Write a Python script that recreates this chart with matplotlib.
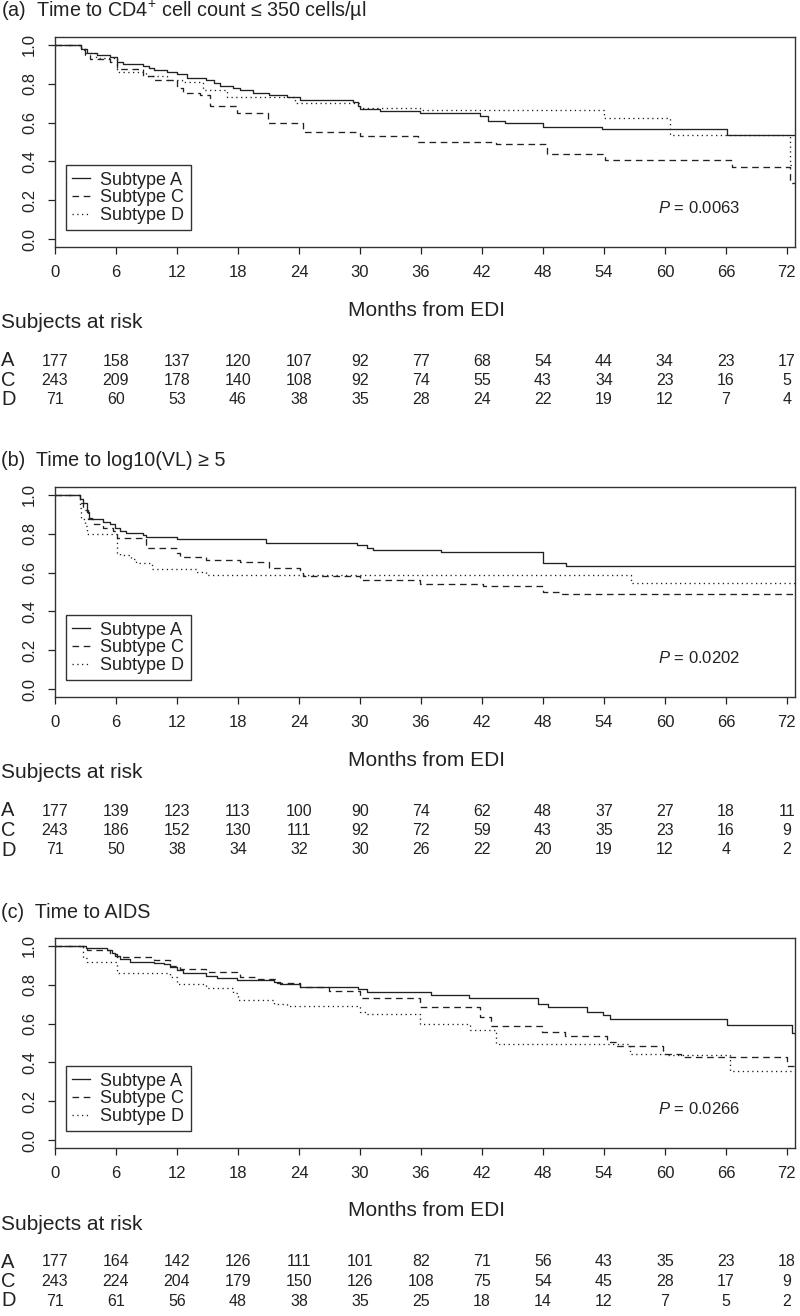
"""
plot.py

Kaplan-Meier style curves for three HIV-1 subtypes with a subjects-at-risk table
under every panel.
"""

# Importing in libraries
import matplotlib
matplotlib.use("Agg")
import matplotlib.pyplot as plt
from matplotlib.transforms import blended_transform_factory

plt.rcParams["font.family"] = ["Liberation Sans", "DejaVu Sans"]
plt.rcParams["mathtext.fontset"] = "custom"
plt.rcParams["mathtext.rm"] = "Liberation Sans"
plt.rcParams["mathtext.it"] = "Liberation Sans:italic"

INK = "#222222"

# x axis months and risk table columns
months = [0, 6, 12, 18, 24, 30, 36, 42, 48, 54, 60, 66, 72]
groups = ["A", "C", "D"]
legend_labels = ["Subtype A", "Subtype C", "Subtype D"]

# (a) time to CD4 <= 350
a_time_A = [0, 2.6, 3.1, 4.1, 5.4, 6.1, 6.7, 8.7, 9.2, 9.7, 11.0, 12.0, 13.0, 14.9, 15.6, 16.2,
            17.5, 18.2, 19.5, 21.1, 22.8, 24.1, 29.3, 29.8, 30.0, 32.0, 35.9, 41.8, 42.6,
            44.3, 48.0, 53.8, 66.1, 72.8]
a_surv_A = [1.0, 0.98, 0.957, 0.948, 0.936, 0.914, 0.902, 0.892, 0.88, 0.868, 0.862, 0.85,
            0.828, 0.82, 0.806, 0.789, 0.777, 0.765, 0.754, 0.742, 0.73, 0.716, 0.708, 0.686,
            0.668, 0.66, 0.648, 0.634, 0.61, 0.596, 0.579, 0.565, 0.536, 0.536]
a_time_C = [0, 2.6, 3.0, 3.4, 5.4, 6.1, 8.7, 9.7, 12.0, 12.6, 14.3, 15.2, 17.9, 21.0, 24.4,
            30.0, 35.7, 43.4, 48.4, 54.1, 66.6, 72.3, 72.8]
a_surv_C = [1.0, 0.974, 0.95, 0.926, 0.914, 0.875, 0.84, 0.82, 0.78, 0.754, 0.742, 0.686,
            0.648, 0.596, 0.553, 0.531, 0.502, 0.49, 0.438, 0.407, 0.373, 0.287, 0.287]
a_time_D = [0, 2.5, 3.0, 4.0, 6.1, 9.0, 11.0, 12.5, 14.6, 16.9, 23.6, 30.0, 35.9, 54.0, 60.5,
            72.3, 72.8]
a_surv_D = [1.0, 0.986, 0.958, 0.93, 0.86, 0.84, 0.82, 0.81, 0.765, 0.733, 0.703, 0.674,
            0.665, 0.622, 0.536, 0.38, 0.38]
a_risk_A = [177, 158, 137, 120, 107, 92, 77, 68, 54, 44, 34, 23, 17]
a_risk_C = [243, 209, 178, 140, 108, 92, 74, 55, 43, 34, 23, 16, 5]
a_risk_D = [71, 60, 53, 46, 38, 35, 28, 24, 22, 19, 12, 7, 4]

# (b) time to log10(VL) >= 5
b_time_A = [0, 2.5, 2.8, 3.1, 3.3, 3.6, 4.75, 5.4, 5.9, 6.4, 7.0, 8.7, 9.0, 12.0, 20.8, 29.7,
            30.7, 31.3, 38.0, 48.0, 50.3, 72.8]
b_surv_A = [1.0, 0.98, 0.96, 0.909, 0.883, 0.874, 0.86, 0.848, 0.831, 0.814, 0.802, 0.791,
            0.784, 0.771, 0.753, 0.74, 0.728, 0.714, 0.705, 0.647, 0.633, 0.633]
b_time_C = [0, 2.5, 2.8, 3.2, 3.8, 4.75, 5.7, 6.1, 9.0, 12.0, 12.3, 14.9, 18.2, 21.1, 24.1,
            24.4, 30.0, 35.9, 42.1, 48.0, 49.7, 72.8]
b_surv_C = [1.0, 0.96, 0.92, 0.874, 0.848, 0.831, 0.814, 0.779, 0.728, 0.702, 0.681, 0.664,
            0.653, 0.624, 0.598, 0.584, 0.564, 0.543, 0.529, 0.5, 0.49, 0.49]
b_time_D = [0, 2.5, 2.6, 2.95, 3.1, 6.1, 6.4, 7.5, 8.0, 9.5, 13.9, 14.9, 56.7, 72.8]
b_surv_D = [1.0, 0.93, 0.874, 0.84, 0.797, 0.702, 0.688, 0.67, 0.65, 0.619, 0.602, 0.586,
            0.547, 0.547]
b_risk_A = [177, 139, 123, 113, 100, 90, 74, 62, 48, 37, 27, 18, 11]
b_risk_C = [243, 186, 152, 130, 111, 92, 72, 59, 43, 35, 23, 16, 9]
b_risk_D = [71, 50, 38, 34, 32, 30, 26, 22, 20, 19, 12, 4, 2]

# (c) time to AIDS
c_time_A = [0, 3.05, 5.1, 5.6, 5.9, 6.4, 7.4, 9.7, 10.7, 11.3, 12.0, 12.6, 14.9, 15.9, 17.9,
            21.5, 22.1, 24.1, 29.8, 30.7, 37.0, 40.7, 47.5, 48.5, 52.3, 53.9, 54.6, 66.1,
            72.5, 72.8]
c_surv_A = [1.0, 0.988, 0.979, 0.962, 0.945, 0.931, 0.919, 0.914, 0.905, 0.893, 0.876,
            0.862, 0.845, 0.833, 0.824, 0.816, 0.803, 0.79, 0.776, 0.762, 0.747, 0.729,
            0.703, 0.686, 0.66, 0.643, 0.621, 0.591, 0.552, 0.552]
c_time_C = [0, 3.1, 5.4, 6.1, 9.7, 11.3, 12.3, 14.9, 17.9, 18.2, 19.8, 21.8, 24.1, 27.0, 30.0,
            35.9, 41.8, 42.9, 47.9, 50.2, 54.3, 55.3, 59.8, 61.6, 72.0, 72.8]
c_surv_C = [1.0, 0.979, 0.957, 0.94, 0.928, 0.897, 0.879, 0.867, 0.853, 0.841, 0.831, 0.807,
            0.786, 0.767, 0.729, 0.686, 0.634, 0.586, 0.557, 0.534, 0.505, 0.483, 0.445,
            0.428, 0.384, 0.384]
c_time_D = [0, 2.8, 3.1, 6.1, 11.3, 12.0, 14.9, 17.5, 18.0, 21.5, 22.8, 30.0, 30.7, 35.9,
            40.8, 43.4, 56.6, 60.2, 66.4, 72.8]
c_surv_D = [1.0, 0.936, 0.919, 0.859, 0.841, 0.802, 0.781, 0.755, 0.721, 0.703, 0.691, 0.66,
            0.648, 0.6, 0.569, 0.497, 0.445, 0.437, 0.355, 0.355]
c_risk_A = [177, 164, 142, 126, 111, 101, 82, 71, 56, 43, 35, 23, 18]
c_risk_C = [243, 224, 204, 179, 150, 126, 108, 75, 54, 45, 28, 17, 9]
c_risk_D = [71, 61, 56, 48, 38, 35, 25, 18, 14, 12, 7, 5, 2]

W, H = 800, 1316
line_styles = ["-", (0, (5, 3.5)), (0, (1, 2.6))]


def fy(px):
    """Turn a pixel row (from the top) into a figure fraction."""
    return 1 - px / H


def plot_panel(fig, box_top, title, curves, risks, p_text):
    """
    Draw one survival panel plus its risk table.

    Args:
        fig: the figure
        box_top (int): pixel row of the top of the plot box
        title (str): panel title
        curves (list): (times, survival) pairs for A, C, D
        risks (list): at-risk counts for A, C, D
        p_text (str): log-rank P value text
    """
    box_bottom = box_top + 210
    ax = fig.add_axes([55 / W, fy(box_bottom), 740 / W, 210 / H])
    for (t, s), ls, lab in zip(curves, line_styles, legend_labels):
        ax.step(t, s, where="post", color=INK, lw=0.95, linestyle=ls, label=lab)

    ax.set_xlim(0, 72.8)
    ax.set_ylim(-0.04, 1.04)
    ax.set_xticks(months)
    ax.set_yticks([0.0, 0.2, 0.4, 0.6, 0.8, 1.0])
    ax.set_yticklabels(["0.0", "0.2", "0.4", "0.6", "0.8", "1.0"])
    ax.tick_params(axis="both", direction="out", length=5, width=0.9, colors=INK,
                   labelsize=12, pad=8)
    ax.tick_params(axis="y", labelrotation=90)
    for lbl in ax.get_yticklabels():
        lbl.set_va("center")
    for sp in ax.spines.values():
        sp.set_linewidth(1.0)
        sp.set_color("#333333")

    leg = ax.legend(loc="lower left", bbox_to_anchor=(0.015, 0.08), borderaxespad=0,
                    fancybox=False, edgecolor="#333333", fontsize=13, handlelength=1.0,
                    handletextpad=0.55, labelspacing=0.03, borderpad=0.35, framealpha=1)
    leg.get_frame().set_linewidth(1.0)
    for txt in leg.get_texts():
        txt.set_color(INK)

    ax.text(0.815, 0.185, p_text, transform=ax.transAxes, fontsize=12, color=INK,
            va="center", ha="left")

    fig.text(1 / W, fy(box_top - 26), title, fontsize=14.2, color=INK, va="center", ha="left")
    fig.text(427 / W, fy(box_bottom + 63), "Months from EDI", fontsize=15, color=INK,
             va="center", ha="center")
    fig.text(1 / W, fy(box_bottom + 76), "Subjects at risk", fontsize=15, color=INK,
             va="center", ha="left")

    # risk table: columns sit under the x ticks
    trans = blended_transform_factory(ax.transData, fig.transFigure)
    for k, (g, row) in enumerate(zip(groups, risks)):
        y = fy(box_bottom + 114 + 19.5 * k)
        fig.text(1 / W, y, g, fontsize=14.5, color=INK, va="center", ha="left")
        for m, n in zip(months, row):
            ax.text(m, y, str(n), transform=trans, fontsize=11.5, color=INK,
                    va="center", ha="center", clip_on=False)
    return ax


fig = plt.figure(figsize=(W / 100, H / 100), dpi=100)

plot_panel(fig, 37, r"(a)  Time to CD4$^{+}$ cell count ≤ 350 cells/µl",
           [(a_time_A, a_surv_A), (a_time_C, a_surv_C), (a_time_D, a_surv_D)],
           [a_risk_A, a_risk_C, a_risk_D], r"$P$ = 0.0063")
plot_panel(fig, 487, "(b)  Time to log10(VL) ≥ 5",
           [(b_time_A, b_surv_A), (b_time_C, b_surv_C), (b_time_D, b_surv_D)],
           [b_risk_A, b_risk_C, b_risk_D], r"$P$ = 0.0202")
plot_panel(fig, 938, "(c)  Time to AIDS",
           [(c_time_A, c_surv_A), (c_time_C, c_surv_C), (c_time_D, c_surv_D)],
           [c_risk_A, c_risk_C, c_risk_D], r"$P$ = 0.0266")

fig.savefig("out.png", dpi=100)
